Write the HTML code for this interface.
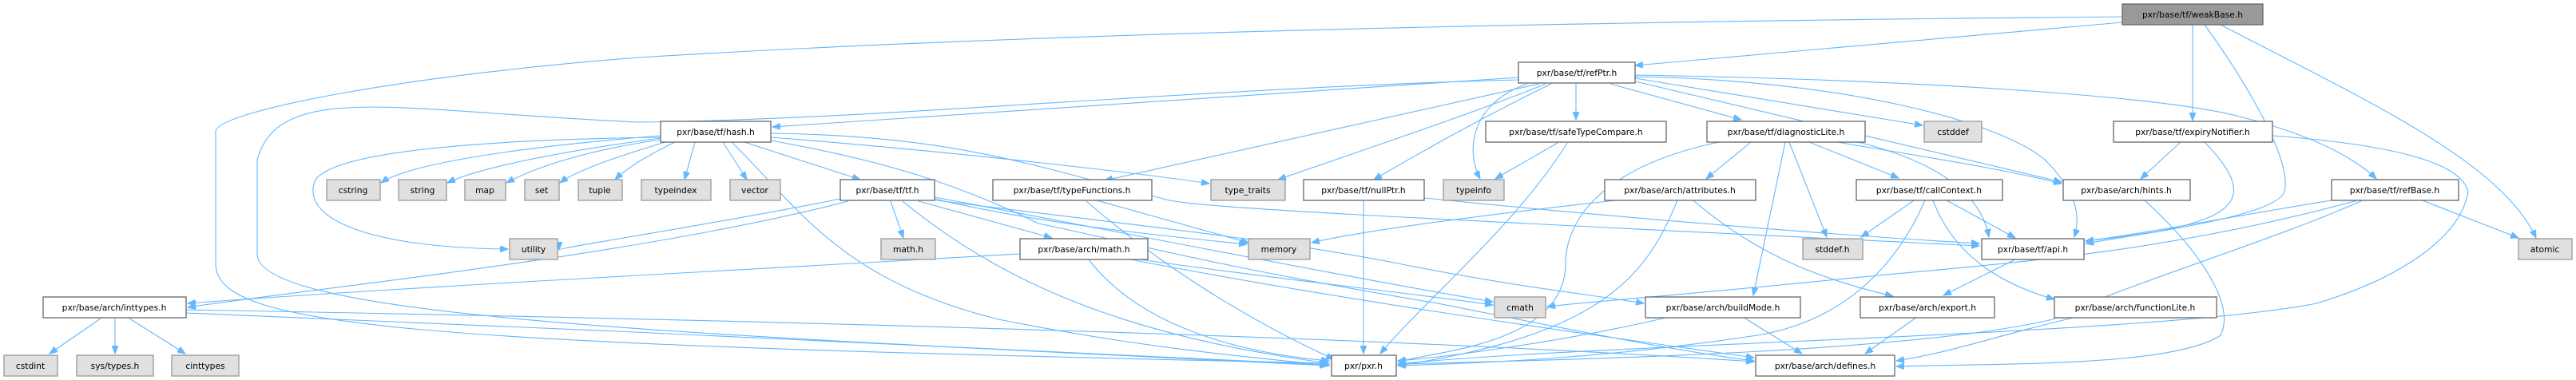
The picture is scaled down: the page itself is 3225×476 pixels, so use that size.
<!DOCTYPE html>
<html><head><meta charset="utf-8"><style>
html,body{margin:0;padding:0;background:#fff;}
svg{display:block;}
text{font-family:"DejaVu Sans","Liberation Sans",sans-serif;font-size:10.7px;fill:#000;text-anchor:middle;}
.w{fill:#fff;stroke:#666;stroke-width:1.3;}
.g{fill:#e0e0e0;stroke:#999;stroke-width:1.3;}
.k{fill:#999;stroke:#666;stroke-width:1.3;}
path.e{fill:none;stroke:#63b8ff;stroke-width:1.1;marker-end:url(#a);}
</style></head><body>
<svg width="3225" height="476" viewBox="0 0 3225 476" xmlns="http://www.w3.org/2000/svg">
<defs><marker id="a" markerUnits="userSpaceOnUse" markerWidth="11" markerHeight="8" refX="10" refY="4" orient="auto"><path d="M0,0 L10,4 L0,8 z" fill="#63b8ff" stroke="#63b8ff"/></marker></defs>
<g>
<path class="e" d="M2657,21 C2200,25 1400,35 800,72 C500,95 270,140 270,165 L270,330 C270,410 500,430 1662,455"/>
<path class="e" d="M2657,28 L2047,82"/>
<path class="e" d="M2745,31 L2745,151"/>
<path class="e" d="M2760,31 C2810,100 2870,200 2860,240 C2850,270 2700,290 2611,305"/>
<path class="e" d="M2780,31 C2950,120 3130,200 3175,298"/>
<path class="e" d="M1901,97 L967,159"/>
<path class="e" d="M1901,100 C1500,110 1100,150 800,153 C500,140 350,100 322,200 L322,320 C330,400 900,420 1662,458"/>
<path class="e" d="M1973,105 L1973,150"/>
<path class="e" d="M2016,105 L2180,150"/>
<path class="e" d="M2047,98 L2407,157"/>
<path class="e" d="M2047,96 C2300,100 2500,150 2560,200 C2600,240 2605,270 2597,297"/>
<path class="e" d="M2047,102 L2581,228"/>
<path class="e" d="M2047,94 C2400,100 2700,120 2800,145 C2900,170 2950,200 2975,224"/>
<path class="e" d="M1927,105 L1383,226"/>
<path class="e" d="M1935,105 C1850,140 1700,190 1600,225"/>
<path class="e" d="M1942,105 C1850,150 1780,190 1720,225"/>
<path class="e" d="M1912,105 C1840,130 1835,190 1853,224"/>
<path class="e" d="M827,170 C700,180 520,200 477,229"/>
<path class="e" d="M827,173 C700,190 600,210 560,229"/>
<path class="e" d="M827,175 C720,190 660,215 634,229"/>
<path class="e" d="M833,178 C760,200 720,215 701,229"/>
<path class="e" d="M845,178 C800,200 780,215 770,225"/>
<path class="e" d="M870,178 L857,225"/>
<path class="e" d="M905,178 L935,225"/>
<path class="e" d="M932,178 L1077,225"/>
<path class="e" d="M965,172 C1200,190 1450,220 1514,230"/>
<path class="e" d="M827,172 C600,175 420,190 395,225 C375,270 450,310 636,312"/>
<path class="e" d="M916,178 C1000,260 1050,350 1250,400 C1450,440 1600,450 1664,458"/>
<path class="e" d="M965,167 C1200,170 1300,210 1460,250 C1500,260 1700,270 2478,308"/>
<path class="e" d="M965,176 C1100,200 1200,230 1300,280 C1400,300 1500,330 1800,380 C1950,410 2100,440 2196,452"/>
<path class="e" d="M1052,249 C900,280 700,310 700,313"/>
<path class="e" d="M1062,252 C800,320 400,360 235,385"/>
<path class="e" d="M1115,252 L1131,298"/>
<path class="e" d="M1150,252 L1317,298"/>
<path class="e" d="M1130,252 C1250,350 1400,420 1664,455"/>
<path class="e" d="M1170,247 C1400,290 1700,350 1869,378"/>
<path class="e" d="M1165,250 C1400,280 1600,300 1750,330 C1900,360 2000,370 2058,380"/>
<path class="e" d="M1170,249 C1300,280 1450,295 1561,306"/>
<path class="e" d="M1277,318 C900,340 500,360 235,380"/>
<path class="e" d="M1362,324 C1420,400 1530,440 1664,452"/>
<path class="e" d="M1420,324 C1600,350 1750,365 1869,382"/>
<path class="e" d="M1410,324 C1700,380 2000,420 2196,448"/>
<path class="e" d="M1373,251 L1563,304"/>
<path class="e" d="M1360,252 C1450,330 1560,400 1670,450"/>
<path class="e" d="M1707,251 L1707,443"/>
<path class="e" d="M1783,248 C2000,270 2300,295 2478,305"/>
<path class="e" d="M1950,179 L1872,224"/>
<path class="e" d="M1962,179 C1900,280 1780,380 1728,443"/>
<path class="e" d="M2023,251 C1850,270 1700,290 1642,304"/>
<path class="e" d="M2192,178 L2136,224"/>
<path class="e" d="M2235,178 L2195,370"/>
<path class="e" d="M2240,178 L2287,297"/>
<path class="e" d="M2265,178 L2377,223"/>
<path class="e" d="M2300,178 C2400,195 2500,210 2581,230"/>
<path class="e" d="M2318,176 C2420,200 2480,240 2490,297"/>
<path class="e" d="M2152,178 C2000,210 1960,280 1960,330 C1960,430 1800,440 1750,453"/>
<path class="e" d="M2100,251 C2060,350 2000,420 1750,458"/>
<path class="e" d="M2120,251 C2200,320 2280,350 2370,371"/>
<path class="e" d="M2396,251 L2330,297"/>
<path class="e" d="M2437,251 L2523,298"/>
<path class="e" d="M2420,251 C2450,330 2520,360 2572,375"/>
<path class="e" d="M2410,251 C2380,320 2320,400 2200,420 C2000,450 1850,455 1750,458"/>
<path class="e" d="M2685,251 C2750,310 2800,380 2780,420 C2720,460 2500,455 2374,459"/>
<path class="e" d="M2730,178 L2680,224"/>
<path class="e" d="M2760,178 C2820,240 2810,270 2700,290 C2650,298 2630,300 2611,302"/>
<path class="e" d="M2845,170 C2980,180 3080,200 3090,240 C3080,300 3000,350 2900,380 C2700,420 2000,430 1750,456"/>
<path class="e" d="M2925,250 C2800,270 2700,290 2611,302"/>
<path class="e" d="M3030,250 L3153,298"/>
<path class="e" d="M2955,250 C2700,320 2500,330 2300,350 C2100,370 1990,378 1937,384"/>
<path class="e" d="M2960,250 C2850,300 2650,360 2570,400 C2400,440 2000,450 1750,456"/>
<path class="e" d="M2525,324 L2433,370"/>
<path class="e" d="M2182,397 L2256,443"/>
<path class="e" d="M2090,397 C1950,430 1800,448 1750,452"/>
<path class="e" d="M2400,397 L2335,443"/>
<path class="e" d="M2600,397 C2500,420 2450,440 2374,452"/>
<path class="e" d="M126,399 L62,443"/>
<path class="e" d="M144,399 L144,443"/>
<path class="e" d="M162,399 L232,443"/>
<path class="e" d="M233,392 C700,410 1300,440 1664,457"/>
<path class="e" d="M233,388 C900,400 1700,420 2196,453"/>
</g>
<g>
<rect class="k" x="2657" y="5" width="176" height="26"/><text x="2745" y="22">pxr/base/tf/weakBase.h</text>
<rect class="w" x="1901" y="78" width="146" height="26"/><text x="1974" y="95">pxr/base/tf/refPtr.h</text>
<rect class="w" x="827" y="152" width="138" height="26"/><text x="896" y="169">pxr/base/tf/hash.h</text>
<rect class="w" x="1860" y="152" width="226" height="26"/><text x="1973" y="169">pxr/base/tf/safeTypeCompare.h</text>
<rect class="w" x="2137" y="152" width="198" height="26"/><text x="2236" y="169">pxr/base/tf/diagnosticLite.h</text>
<rect class="g" x="2409" y="152" width="72" height="26"/><text x="2445" y="169">cstddef</text>
<rect class="w" x="2646" y="152" width="199" height="26"/><text x="2745" y="169">pxr/base/tf/expiryNotifier.h</text>
<rect class="g" x="409" y="225" width="67" height="26"/><text x="442" y="242">cstring</text>
<rect class="g" x="499" y="225" width="60" height="26"/><text x="529" y="242">string</text>
<rect class="g" x="582" y="225" width="51" height="26"/><text x="607" y="242">map</text>
<rect class="g" x="657" y="225" width="43" height="26"/><text x="678" y="242">set</text>
<rect class="g" x="724" y="225" width="55" height="26"/><text x="751" y="242">tuple</text>
<rect class="g" x="803" y="225" width="87" height="26"/><text x="846" y="242">typeindex</text>
<rect class="g" x="914" y="225" width="63" height="26"/><text x="945" y="242">vector</text>
<rect class="w" x="1052" y="225" width="118" height="26"/><text x="1111" y="242">pxr/base/tf/tf.h</text>
<rect class="w" x="1243" y="225" width="199" height="26"/><text x="1342" y="242">pxr/base/tf/typeFunctions.h</text>
<rect class="g" x="1516" y="225" width="93" height="26"/><text x="1562" y="242">type_traits</text>
<rect class="w" x="1632" y="225" width="151" height="26"/><text x="1707" y="242">pxr/base/tf/nullPtr.h</text>
<rect class="g" x="1807" y="225" width="76" height="26"/><text x="1845" y="242">typeinfo</text>
<rect class="w" x="2009" y="225" width="189" height="26"/><text x="2103" y="242">pxr/base/arch/attributes.h</text>
<rect class="w" x="2324" y="225" width="183" height="26"/><text x="2415" y="242">pxr/base/tf/callContext.h</text>
<rect class="w" x="2583" y="225" width="159" height="26"/><text x="2662" y="242">pxr/base/arch/hints.h</text>
<rect class="w" x="2919" y="225" width="159" height="26"/><text x="2998" y="242">pxr/base/tf/refBase.h</text>
<rect class="g" x="638" y="299" width="60" height="26"/><text x="668" y="316">utility</text>
<rect class="g" x="1103" y="299" width="68" height="26"/><text x="1137" y="316">math.h</text>
<rect class="w" x="1277" y="299" width="160" height="26"/><text x="1357" y="316">pxr/base/arch/math.h</text>
<rect class="g" x="1563" y="299" width="77" height="26"/><text x="1601" y="316">memory</text>
<rect class="g" x="2257" y="299" width="75" height="26"/><text x="2294" y="316">stddef.h</text>
<rect class="w" x="2481" y="299" width="128" height="26"/><text x="2545" y="316">pxr/base/tf/api.h</text>
<rect class="g" x="3153" y="299" width="67" height="26"/><text x="3186" y="316">atomic</text>
<rect class="w" x="54" y="372" width="179" height="26"/><text x="143" y="389">pxr/base/arch/inttypes.h</text>
<rect class="g" x="1871" y="372" width="64" height="26"/><text x="1903" y="389">cmath</text>
<rect class="w" x="2060" y="372" width="194" height="26"/><text x="2157" y="389">pxr/base/arch/buildMode.h</text>
<rect class="w" x="2329" y="372" width="168" height="26"/><text x="2413" y="389">pxr/base/arch/export.h</text>
<rect class="w" x="2572" y="372" width="203" height="26"/><text x="2673" y="389">pxr/base/arch/functionLite.h</text>
<rect class="g" x="5" y="445" width="67" height="26"/><text x="38" y="462">cstdint</text>
<rect class="g" x="96" y="445" width="96" height="26"/><text x="144" y="462">sys/types.h</text>
<rect class="g" x="215" y="445" width="84" height="26"/><text x="257" y="462">cinttypes</text>
<rect class="w" x="1667" y="445" width="81" height="26"/><text x="1707" y="462">pxr/pxr.h</text>
<rect class="w" x="2198" y="445" width="174" height="26"/><text x="2285" y="462">pxr/base/arch/defines.h</text>
</g>
</svg>
</body></html>
